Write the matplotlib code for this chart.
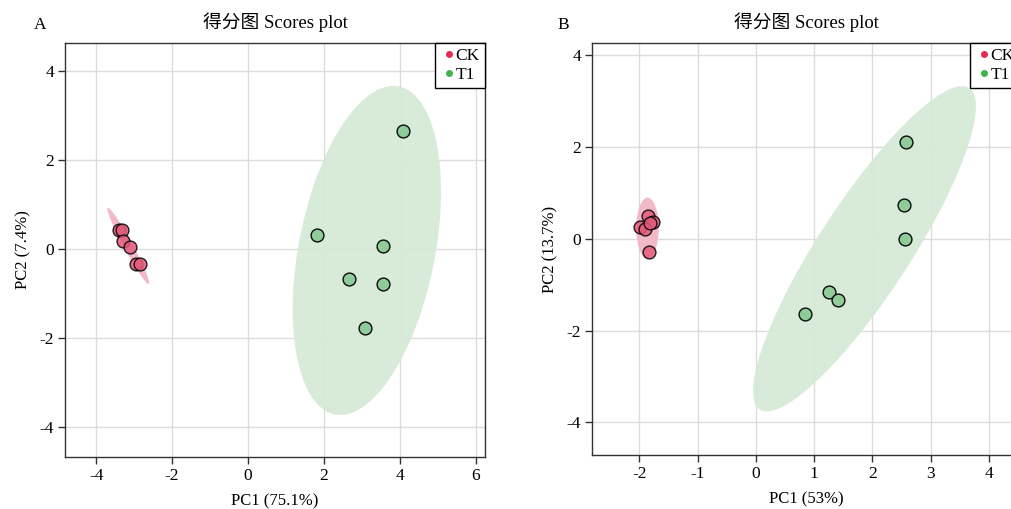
import numpy as np
import matplotlib
matplotlib.use("Agg")
import matplotlib.pyplot as plt
from matplotlib.patches import Ellipse
from matplotlib.lines import Line2D

plt.rcParams['font.family'] = ['Liberation Serif', 'Noto Sans CJK SC']
plt.rcParams['axes.unicode_minus'] = False

# ---- data ----
groups = ["CK", "T1"]
a_ck_x = [-3.41, -3.33, -3.28, -3.10, -2.96, -2.84]
a_ck_y = [0.44, 0.43, 0.19, 0.04, -0.34, -0.33]
a_t1_x = [4.07, 1.82, 3.56, 2.67, 3.56, 3.09]
a_t1_y = [2.66, 0.32, 0.07, -0.67, -0.78, -1.78]

b_ck_x = [-1.85, -1.76, -1.99, -1.90, -1.82, -1.83]
b_ck_y = [0.51, 0.36, 0.27, 0.21, 0.34, -0.28]
b_t1_x = [2.57, 2.54, 2.56, 1.25, 1.41, 0.85]
b_t1_y = [2.11, 0.73, -0.01, -1.15, -1.33, -1.64]

a_xlabel = "PC1 (75.1%)"
a_ylabel = "PC2 (7.4%)"
b_xlabel = "PC1 (53%)"
b_ylabel = "PC2 (13.7%)"
title = "得分图 Scores plot"

col_pt = {"CK": "#E25C7A", "T1": "#8CCB96"}
col_ell = {"CK": "#F2B6C6", "T1": "#D6EAD6"}
col_leg = {"CK": "#E8294F", "T1": "#3DB54A"}

CHI2_95 = 5.991


def conf_ellipse(ax, x, y, color):
    x = np.asarray(x); y = np.asarray(y)
    cov = np.cov(x, y)
    vals, vecs = np.linalg.eigh(cov)
    order = vals.argsort()[::-1]
    vals, vecs = vals[order], vecs[:, order]
    ang = np.degrees(np.arctan2(vecs[1, 0], vecs[0, 0]))
    w, h = 2 * np.sqrt(vals * CHI2_95)
    e = Ellipse((x.mean(), y.mean()), w, h, angle=ang, facecolor=color,
                edgecolor='none', alpha=0.95, zorder=1)
    ax.add_patch(e)


fig = plt.figure(figsize=(10.11, 5.09), dpi=100)
axA = fig.add_axes([65/1011, 1-457/509, 420/1011, 414/509])
axB = fig.add_axes([592/1011, 1-455/509, 428/1011, 412/509])

panels = [
    (axA, a_ck_x, a_ck_y, a_t1_x, a_t1_y, a_xlabel, a_ylabel,
     (-4.82, 6.24), (-4.67, 4.63), [-4, -2, 0, 2, 4, 6], [-4, -2, 0, 2, 4], "A"),
    (axB, b_ck_x, b_ck_y, b_t1_x, b_t1_y, b_xlabel, b_ylabel,
     (-2.81, 4.53), (-4.71, 4.27), [-2, -1, 0, 1, 2, 3, 4], [-4, -2, 0, 2, 4], "B"),
]

for ax, cx, cy, tx, ty, xl, yl, xlim, ylim, xt, yt, lab in panels:
    ax.set_xlim(*xlim); ax.set_ylim(*ylim)
    ax.set_xticks(xt); ax.set_yticks(yt)
    ax.grid(True, color='#DCDCDC', linewidth=1.0, zorder=0)
    ax.set_axisbelow(True)
    conf_ellipse(ax, cx, cy, col_ell["CK"])
    conf_ellipse(ax, tx, ty, col_ell["T1"])
    ax.scatter(cx, cy, s=85, facecolor=col_pt["CK"], edgecolor='black',
               linewidth=1.0, zorder=3, alpha=0.85)
    ax.scatter(tx, ty, s=85, facecolor=col_pt["T1"], edgecolor='black',
               linewidth=1.0, zorder=3, alpha=0.95)
    for s in ax.spines.values():
        s.set_color('#333333'); s.set_linewidth(1.0)
    ax.tick_params(direction='out', length=5, width=1, labelsize=12.5,
                   color='#333333', pad=3)
    ax.set_xlabel(xl, fontsize=12, labelpad=7)
    ax.set_ylabel(yl, fontsize=12, labelpad=6)
    ax.set_title(title, fontsize=13.5, pad=11)
    handles = [Line2D([], [], marker='o', linestyle='none', markersize=5,
                      markerfacecolor=col_leg[g], markeredgecolor='none', label=g)
               for g in groups]
    leg = ax.legend(handles=handles, loc='upper right', borderaxespad=0,
                    fontsize=12.5, handletextpad=-0.1, handlelength=1.0,
                    borderpad=0.3, labelspacing=0.15, fancybox=False,
                    framealpha=1, edgecolor='black')
    leg.get_frame().set_linewidth(1.0)

fig.text(40/1011, 1-25/509, "A", fontsize=12.5, ha='center', va='center')
fig.text(563/1011, 1-25/509, "B", fontsize=12.5, ha='center', va='center')

fig.savefig("out.png", dpi=100)
